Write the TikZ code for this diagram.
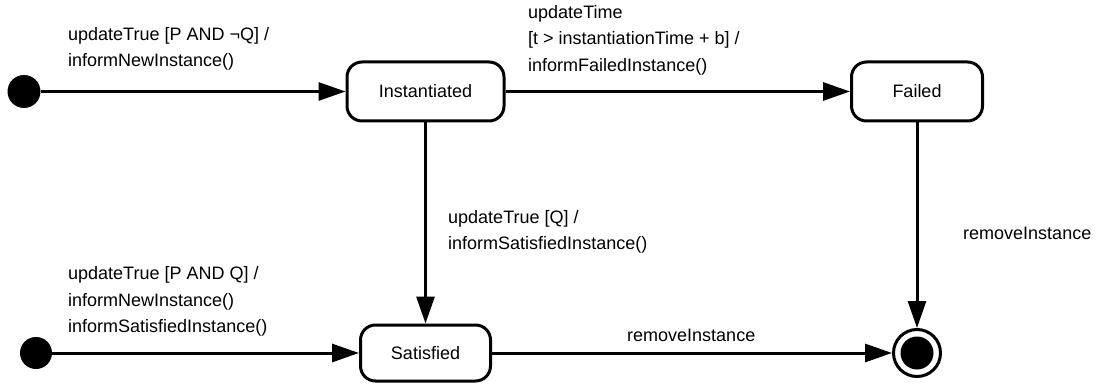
\documentclass[tikz,border=0pt]{standalone}
\usepackage{fontspec}
\setmainfont{Liberation Sans}
\usetikzlibrary{arrows.meta}
\begin{document}
\begin{tikzpicture}[x=1pt,y=-1pt,
  every node/.style={font=\fontsize{18}{26.5}\selectfont},
  state/.style={draw, line width=3pt, rounded corners=15pt, minimum height=59pt, inner sep=0pt},
  startdot/.style={circle, fill=black, minimum size=33pt, inner sep=0pt},
  trans/.style={line width=3pt, -{Triangle[length=27pt,width=18pt]}},
  lbl/.style={align=left, inner sep=0pt, anchor=north west},
]
\useasboundingbox (0,0) rectangle (1099,387);

% states
\node[state, minimum width=157pt] (inst) at (425.5,91.5) {Instantiated};
\node[state, minimum width=131pt] (failed) at (917,91.5) {Failed};
\node[state, minimum width=130pt, minimum height=56pt] (sat) at (425.5,353) {Satisfied};

% pseudo states
\node[startdot] (init1) at (24,91.5) {};
\node[startdot, minimum size=32pt] (init2) at (36,353) {};
\node[circle, draw, line width=3pt, minimum size=47pt, inner sep=0pt] (final) at (917,353) {};
\node[startdot] (finalcore) at (final.center) {};

% transitions
\draw[trans] (init1) -- (inst);
\draw[trans] (inst) -- (failed);
\draw[trans] (inst) -- (sat);
\draw[trans] (init2) -- (sat);
\draw[trans] (sat) -- (final);
\draw[trans] (failed) -- (final);

% transition labels (y = first baseline - strut height)
\node[lbl] (l1) at (68,21.5) {\strut updateTrue [P AND ¬Q] /\\informNewInstance()};
\node[lbl] (l2) at (528,-0.5) {\strut updateTime\\{[t > instantiationTime + b] /}\\informFailedInstance()};
\node[lbl] (l3) at (448,204.5) {\strut updateTrue [Q] /\\informSatisfiedInstance()};
\node[lbl] (l4) at (68,261) {\strut updateTrue [P AND Q] /\\informNewInstance()\\informSatisfiedInstance()};
\node[lbl] (l5) at (627,323) {\strut removeInstance};
\node[lbl] (l6) at (963,220.5) {\strut removeInstance};
\end{tikzpicture}
\end{document}
